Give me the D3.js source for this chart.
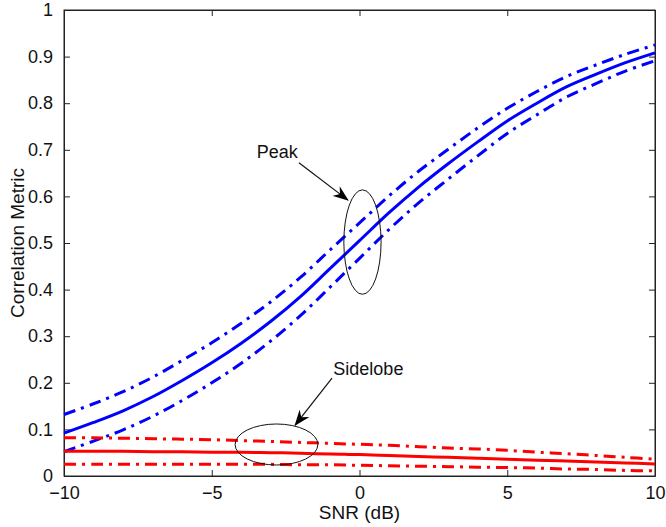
<!DOCTYPE html>
<html lang="en">
<head>
<meta charset="UTF-8">
<title>Correlation Metric vs SNR</title>
<script src="https://d3js.org/d3.v7.min.js"></script>
<style>
    body { margin: 0; background: #fff; }
    svg text { font-family: "Liberation Sans", Arial, Helvetica, sans-serif; fill: #111; }
</style>
</head>
<body>
<div id="chart"></div>
<script>
// SNR values (dB)
const snr = [-10, -9, -8, -7, -6, -5, -4, -3, -2, -1, 0, 1, 2, 3, 4, 5, 6, 7, 8, 9, 10];

// peak correlation: mean and spread bounds
const peakMean  = [0.092, 0.115, 0.140, 0.170, 0.205, 0.243, 0.285, 0.332, 0.385, 0.445, 0.505, 0.565, 0.620, 0.670, 0.717, 0.762, 0.800, 0.835, 0.862, 0.887, 0.908];
const peakUpper = [0.132, 0.155, 0.181, 0.212, 0.248, 0.286, 0.328, 0.374, 0.426, 0.485, 0.543, 0.601, 0.654, 0.701, 0.747, 0.789, 0.825, 0.857, 0.882, 0.905, 0.925];
const peakLower = [0.052, 0.075, 0.099, 0.128, 0.162, 0.200, 0.242, 0.290, 0.344, 0.405, 0.467, 0.529, 0.586, 0.637, 0.687, 0.735, 0.775, 0.813, 0.842, 0.869, 0.891];

// sidelobe correlation: mean and spread bounds
const sideMean  = [0.053, 0.053, 0.053, 0.052, 0.052, 0.051, 0.051, 0.050, 0.049, 0.047, 0.046, 0.044, 0.042, 0.040, 0.038, 0.036, 0.034, 0.032, 0.030, 0.028, 0.026];
const sideUpper = [0.082, 0.082, 0.081, 0.080, 0.079, 0.078, 0.076, 0.074, 0.072, 0.070, 0.068, 0.066, 0.063, 0.060, 0.058, 0.055, 0.051, 0.048, 0.044, 0.040, 0.036];
const sideLower = [0.025, 0.025, 0.025, 0.025, 0.025, 0.025, 0.025, 0.025, 0.024, 0.024, 0.023, 0.022, 0.021, 0.020, 0.019, 0.018, 0.017, 0.015, 0.014, 0.012, 0.011];

const xTicks = [-10, -5, 0, 5, 10];
const yTicks = [0, 0.1, 0.2, 0.3, 0.4, 0.5, 0.6, 0.7, 0.8, 0.9, 1];

const width = 666, height = 527;
const margin = {top: 10, right: 11, bottom: 51, left: 64};

const svg = d3.select("#chart").append("svg")
    .attr("width", width).attr("height", height);

const x = d3.scaleLinear().domain([-10, 10]).range([margin.left, width - margin.right]);
const y = d3.scaleLinear().domain([0, 1]).range([height - margin.bottom, margin.top]);

const fmtX = d => d < 0 ? "\u2212" + Math.abs(d) : String(d);
const fmtY = d => d === 0 ? "0" : d === 1 ? "1" : d3.format(".1f")(d);

// axes, matlab style: ticks inward on all four sides
const tickLen = 6;
svg.append("g").attr("transform", `translate(0,${y(0)})`)
    .call(d3.axisBottom(x).tickValues(xTicks).tickSizeInner(-tickLen).tickSizeOuter(0).tickPadding(10).tickFormat(fmtX));
svg.append("g").attr("transform", `translate(0,${y(1)})`)
    .call(d3.axisTop(x).tickValues(xTicks).tickSizeInner(-tickLen).tickSizeOuter(0).tickFormat(""));
svg.append("g").attr("transform", `translate(${x(-10)},0)`)
    .call(d3.axisLeft(y).tickValues(yTicks).tickSizeInner(-tickLen).tickSizeOuter(0).tickPadding(11).tickFormat(fmtY));
svg.append("g").attr("transform", `translate(${x(10)},0)`)
    .call(d3.axisRight(y).tickValues(yTicks).tickSizeInner(-tickLen).tickSizeOuter(0).tickFormat(""));

svg.selectAll(".domain").attr("stroke", "#222");
svg.selectAll(".tick line").attr("stroke", "#222");
svg.selectAll(".tick text").attr("font-size", 18).attr("fill", "#111");

svg.append("rect")
    .attr("x", x(-10)).attr("y", y(1))
    .attr("width", x(10) - x(-10)).attr("height", y(0) - y(1))
    .attr("fill", "none").attr("stroke", "#222");

// axis titles
svg.append("text")
    .attr("x", (x(-10) + x(10)) / 2).attr("y", 519)
    .attr("text-anchor", "middle").attr("font-size", 19)
    .text("SNR (dB)");
svg.append("text")
    .attr("transform", `translate(24,${(y(0) + y(1)) / 2}) rotate(-90)`)
    .attr("text-anchor", "middle").attr("font-size", 19)
    .text("Correlation Metric");

// curves
const line = d3.line().x((d, i) => x(snr[i])).y(d => y(d)).curve(d3.curveCatmullRom.alpha(0.5));
const dashDot = "12,6,3,6";
const series = [
    {v: peakMean,  color: "#0000ff", dash: null},
    {v: peakUpper, color: "#0000ff", dash: dashDot},
    {v: peakLower, color: "#0000ff", dash: dashDot},
    {v: sideMean,  color: "#ff0000", dash: null},
    {v: sideUpper, color: "#ff0000", dash: dashDot},
    {v: sideLower, color: "#ff0000", dash: dashDot}
];
svg.append("g").selectAll("path")
    .data(series).enter().append("path")
    .attr("d", d => line(d.v))
    .attr("fill", "none")
    .attr("stroke", d => d.color)
    .attr("stroke-width", 3)
    .attr("stroke-dasharray", d => d.dash);

// annotations (data units)
svg.append("defs").append("marker")
    .attr("id", "arrow").attr("viewBox", "0 0 16 12")
    .attr("refX", 15).attr("refY", 6)
    .attr("markerWidth", 16).attr("markerHeight", 12)
    .attr("markerUnits", "userSpaceOnUse")
    .attr("orient", "auto")
    .append("path").attr("d", "M0,0 L16,6 L0,12 L5,6 Z").attr("fill", "#000");

const notes = [
    {label: "Peak", tx: -2.78, ty: 0.682, ax0: -2.05, ay0: 0.672, ax1: -0.39, ay1: 0.592, cx: 0.10, cy: 0.502, rx: 0.63, ry: 0.112},
    {label: "Sidelobe", tx: 0.30, ty: 0.217, ax0: -0.93, ay0: 0.21, ax1: -2.18, ay1: 0.109, cx: -2.81, cy: 0.0676, rx: 1.40, ry: 0.044}
];
const ann = svg.append("g");
notes.forEach(n => {
    ann.append("ellipse")
        .attr("cx", x(n.cx)).attr("cy", y(n.cy))
        .attr("rx", x(n.rx) - x(0)).attr("ry", y(0) - y(n.ry))
        .attr("fill", "none").attr("stroke", "#111").attr("stroke-width", 1);
    ann.append("line")
        .attr("x1", x(n.ax0)).attr("y1", y(n.ay0))
        .attr("x2", x(n.ax1)).attr("y2", y(n.ay1))
        .attr("stroke", "#111").attr("stroke-width", 1.2)
        .attr("marker-end", "url(#arrow)");
    ann.append("text")
        .attr("x", x(n.tx)).attr("y", y(n.ty))
        .attr("text-anchor", "middle").attr("font-size", 18)
        .text(n.label);
});
</script>
</body>
</html>
